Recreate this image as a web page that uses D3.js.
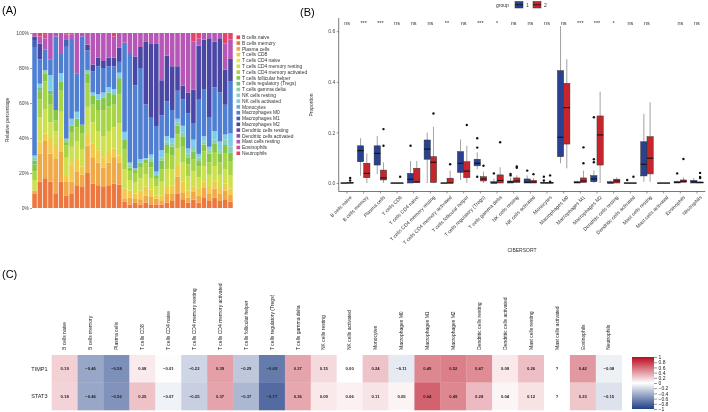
<!DOCTYPE html>
<html><head><meta charset="utf-8">
<script src="https://cdn.jsdelivr.net/npm/d3@7"></script>
<style>body{margin:0;background:#fff}svg{display:block;will-change:transform}text{font-family:"Liberation Sans",Arial,sans-serif}</style>
</head><body><svg id="c" width="708" height="412"></svg>
<script>
// ---------- Panel A data ----------
const legendTypes = ["B cells naive","B cells memory","Plasma cells","T cells CD8","T cells CD4 naive","T cells CD4 memory resting","T cells CD4 memory activated","T cells follicular helper","T cells regulatory (Tregs)","T cells gamma delta","NK cells resting","NK cells activated","Monocytes","Macrophages M0","Macrophages M1","Macrophages M2","Dendritic cells resting","Dendritic cells activated","Mast cells resting","Eosinophils","Neutrophils"];
const typeColors = ["#E8413C","#EC7840","#F0A848","#F2CA4A","#ECE44E","#CFE04E","#A8D548","#86C646","#72BF6E","#8CCFAA","#86D2D0","#7CCBEA","#6AA6E2","#4F7FD2","#4262BA","#4A46A4","#6A46A8","#9250B0","#B657B8","#D24E9E","#E4456A"];
const sampleIds = ["S1","S2","S3","S4","S5","S6","S7","S8","S9","S10","S11","S12","S13","S14","S15","S16","S17","S18","S19","S20","S21","S22","S23","S24","S25","S26","S27","S28","S29","S30","S31","S32","S33","S34","S35","S36","S37","S38"];
// rows: sample, columns: legendTypes order
const composition = [
[0,.08,.02,0,0,.06,.05,.04,.02,.02,0,.01,0,.62,.04,.02,0,0,.02,0,0],
[0,.15,.16,.07,0,.14,.10,.05,.02,0,0,.02,0,.14,0,.09,0,0,.04,0,.02],
[0,.16,.20,.04,0,.13,.15,.04,0,.02,0,0,0,.11,0,0,0,0,.06,.02,.01],
[0,.15,.16,.09,0,.09,.1,.06,.02,0,0,.09,0,.09,0,0,0,0,.15,0,0],
[0,.08,.20,.08,0,.08,.06,.06,0,0,0,0,0,.42,0,0,0,0,.02,0,0],
[0,.15,.17,.08,0,.15,.12,.05,0,0,0,.05,0,.11,0,0,0,0,.12,0,0],
[0,.07,.08,.04,0,.1,.07,.02,0,.02,0,0,0,.53,.04,0,0,0,.03,.01,0],
[0,.08,.07,.1,0,.1,.08,.04,0,0,0,.04,0,.45,0,0,0,0,.03,.01,0],
[0,.13,.08,.07,0,.1,.08,.05,0,0,0,.04,0,.22,0,0,0,0,.23,0,0],
[0,.13,.07,.05,0,.1,.1,.05,0,0,0,0,0,.53,0,0,0,0,.02,0,0],
[0,.18,.14,.06,0,.14,.12,.05,0,.02,0,0,0,.1,0,.03,0,0,.06,0,0],
[0,.14,.15,.08,0,.12,.1,.05,0,0,0,.02,0,.12,0,.04,0,0,.18,0,0],
[0,.13,.13,.07,0,.11,.12,.06,0,0,0,.03,0,.16,0,.05,0,0,.14,0,0],
[0,.12,.11,.06,0,.12,.15,.07,0,0,0,.03,0,.14,0,.04,0,0,.16,0,0],
[0,.13,.13,.06,0,.12,.14,.08,0,0,0,.03,0,.12,0,.05,0,0,.14,0,0],
[0,.14,.15,.05,0,.12,.13,.06,0,0,0,.03,0,.13,0,.05,0,0,.12,0,.02],
[0,.13,.12,.04,0,.18,.16,.09,0,0,0,.03,0,.06,0,.08,0,0,.08,0,0],
[0,.04,.02,.06,0,.12,.12,.06,0,0,0,.05,0,.55,0,0,0,0,.06,0,0],
[0,.02,.04,.04,0,.06,.05,.02,0,.02,0,.01,0,.62,0,0,0,0,.12,0,0],
[0,.03,.02,.03,0,.06,.05,.02,0,0,0,.01,0,.46,0,.16,0,0,.13,0,0],
[0,.02,.03,.05,0,.07,.06,.03,0,0,0,.02,0,.52,0,.12,0,0,.08,0,0],
[0,.03,.04,.05,0,.07,.06,.02,0,0,0,.01,0,.30,0,.35,0,0,.05,0,0],
[0,.02,.04,.04,0,.06,.06,.03,0,.02,0,.02,0,.20,0,.40,0,0,.06,0,0],
[0,.02,.03,.02,0,.05,.04,.02,0,0,0,.02,0,.25,0,.45,0,0,.06,0,0],
[0,.02,.02,.03,0,.08,.07,.05,0,.02,0,.04,0,.2,0,.2,0,0,.27,0,0],
[0,.03,.05,.04,0,.1,.09,.05,0,.02,0,.03,0,.2,0,.26,0,0,.13,0,0],
[0,.04,.04,.05,0,.09,.08,.05,0,.02,0,.03,0,.16,0,.25,0,0,.19,0,0],
[0,.08,.1,.06,0,.1,.08,.05,0,.02,0,.02,0,.16,0,.14,0,0,.19,0,0],
[0,.05,.04,.06,0,.11,.09,.06,0,.02,0,.04,0,.15,0,.08,0,0,.30,0,0],
[0,.03,.03,.04,0,.08,.07,.04,0,.02,0,.03,0,.20,0,.12,0,0,.34,0,0],
[0,.05,.05,.03,0,.09,.07,.05,0,.02,0,.05,0,.1,0,.2,0,0,.29,0,.05],
[0,.03,.04,.04,0,.06,.06,.03,0,.02,0,.02,0,.30,0,.30,0,0,.04,0,.03],
[0,.06,.06,.04,0,.09,.09,.04,0,.02,0,.03,0,.28,0,.30,0,0,.04,0,0],
[0,.04,.04,.04,0,.07,.07,.05,0,.02,0,.02,0,.17,0,.45,0,0,.03,0,0],
[0,.06,.05,.04,0,.09,.08,.05,0,.02,0,.05,0,.25,0,.26,0,0,.05,0,0],
[0,.04,.04,.04,0,.07,.07,.05,0,.02,0,.05,0,.28,0,.31,0,0,.03,0,0],
[0,.05,.05,.04,0,.08,.09,.05,0,.03,0,.03,0,.17,0,.2,0,0,.15,0,.06],
[0,.04,.04,.04,0,.08,.09,.05,0,.04,0,.08,0,.32,0,.14,0,0,.12,0,.04]
];
const pctTicks = ["0%","20%","40%","60%","80%","100%"];

// ---------- Panel B data ----------
const cibersortCells = ["B cells naive","B cells memory","Plasma cells","T cells CD8","T cells CD4 naive","T cells CD4 memory resting","T cells CD4 memory activated","T cells follicular helper","T cells regulatory (Tregs)","T cells gamma delta","NK cells resting","NK cells activated","Monocytes","Macrophages M0","Macrophages M1","Macrophages M2","Dendritic cells resting","Dendritic cells activated","Mast cells resting","Mast cells activated","Eosinophils","Neutrophils"];
const sigLabels = ["ns","***","***","ns","ns","ns","**","ns","***","*","ns","ns","ns","ns","***","***","*","ns","ns","","ns","ns"];
const groupNames = ["1","2"];
const groupColors = ["#2A4190","#C6262B"];
// group 1 (blue)
const g1Lo  = [0,.029,.036,0,0,0,0,.012,.054,0,0,0,0,.078,0,0,0,0,.005,0,0,0];
const g1Q1  = [0,.084,.071,0,0,.094,0,.042,.068,0,0,0,0,.104,0,.005,0,0,.028,0,0,0];
const g1Med = [0,.128,.117,0,.015,.134,0,.078,.078,0,.004,.003,0,.181,.002,.016,0,0,.074,0,.003,.005];
const g1Q3  = [0,.147,.147,0,.038,.170,0,.124,.094,.005,.008,.016,.002,.444,.005,.029,.005,0,.163,0,.005,.010];
const g1Hi  = [0,.177,.186,0,.087,.199,0,.172,.121,.017,.020,.030,.004,.620,.010,.050,.010,0,.273,0,.010,.020];
const g1Out = [[],[],[],[],[.147],[],[],[],[.14,.177,.025],[.038],[.036,.030],[.049],[.025,.010],[],[],[.094,.082,.26],[],[.012],[],[],[.038],[]];
// group 2 (red)
const g2Lo  = [0,0,0,0,0,.002,0,.001,0,0,.002,0,0,.058,.002,0,0,0,.005,0,.003,0];
const g2Q1  = [0,.021,.012,0,.003,.002,0,.021,.008,0,.002,0,0,.154,.002,.071,0,0,.036,0,.003,0];
const g2Med = [0,.038,.020,0,.004,.082,0,.047,.016,.010,.008,.004,0,.298,.008,.190,.008,0,.098,0,.007,.002];
const g2Q3  = [.002,.078,.051,0,.058,.104,.019,.084,.025,.032,.020,.010,.002,.394,.020,.265,.015,0,.183,0,.012,.004];
const g2Hi  = [.005,.117,.082,0,.087,.222,.049,.147,.045,.062,.030,.020,.004,.489,.049,.361,.022,0,.319,0,.022,.008];
const g2Out = [[.01,.02],[],[.213,.147],[.025],[],[.275],[.074],[.229],[.068],[.161],[.065,.060],[.035],[.030,.005],[],[.078,.141],[],[],[.025],[],[],[.095],[.040,.024,.020]];
const propTicks = [0,0.2,0.4,0.6];

// ---------- Panel C data ----------
const geneRows = ["TIMP1","STAT3"];
const timp1Cor = [0.19,-0.46,-0.58,0.08,-0.01,-0.22,0.39,-0.29,-0.69,0.37,0.15,0.00,0.24,-0.11,0.49,0.52,0.47,0.09,0.26,null,0.42,-0.08];
const stat3Cor = [0.18,-0.46,-0.56,0.25,-0.07,-0.25,0.37,-0.37,-0.77,0.36,0.09,0.06,0.11,0.05,0.64,0.49,0.28,0.04,0.12,null,0.23,-0.15];
const corTicks = [1,0.8,0.6,0.4,0.2,0,-0.2,-0.4,-0.6,-0.8,-1];

const svg = d3.select("#c");
svg.append("rect").attr("width",708).attr("height",412).attr("fill","#fff");
const minus = s => s.replace(/-/g,"\u2212");

// ---------- Panel A ----------
{
  const g = svg.append("g");
  g.append("text").attr("x",2).attr("y",14).attr("font-family","Liberation Serif, Times New Roman, serif").attr("font-size",11).text("(A)");
  const x = d3.scaleBand().domain(sampleIds).range([32,233]).paddingInner(0.14).paddingOuter(0.05);
  const y = d3.scaleLinear().domain([0,1]).range([208,33]);
  const rows = composition.map((r,i)=>{const o={id:sampleIds[i]}; legendTypes.forEach((t,j)=>o[t]=r[j]); return o;});
  const series = d3.stack().keys(legendTypes).offset(d3.stackOffsetExpand)(rows);
  series.forEach((s,k)=>{
    g.append("g").attr("fill",typeColors[k]).selectAll("rect").data(s).join("rect")
      .attr("x",d=>x(d.data.id)).attr("width",x.bandwidth())
      .attr("y",d=>y(d[1])).attr("height",d=>Math.max(0,y(d[0])-y(d[1])));
  });
  const ax = g.append("g").attr("transform","translate(32,0)")
    .call(d3.axisLeft(y).tickValues([0,.2,.4,.6,.8,1]).tickFormat((d,i)=>pctTicks[i]).tickSize(2).tickPadding(1));
  ax.select(".domain").remove();
  ax.selectAll("text").attr("font-size",5).attr("fill","#444").attr("font-family","Liberation Sans, Arial, sans-serif");
  ax.selectAll("line").attr("stroke","#444").attr("stroke-width",0.5);
  g.append("text").attr("transform","translate(9,120) rotate(-90)").attr("text-anchor","middle").attr("font-size",5).attr("fill","#333").text("Relative percentage");
  const lg = g.append("g");
  legendTypes.forEach((t,i)=>{
    const yy = 37.3 + i*5.8;
    lg.append("rect").attr("x",236.5).attr("y",yy-1.8).attr("width",3.6).attr("height",3.6).attr("fill",typeColors[i]);
    lg.append("text").attr("x",242).attr("y",yy+1.7).attr("font-size",4.9).attr("fill","#333").text(t);
  });
}

// ---------- Panel B ----------
{
  const g = svg.append("g");
  g.append("text").attr("x",300).attr("y",16).attr("font-family","Liberation Serif, Times New Roman, serif").attr("font-size",11).text("(B)");
  const x = d3.scaleBand().domain(cibersortCells).range([338.7,705.3]);
  const y = d3.scaleLinear().domain([0,0.6]).range([183,31.2]);
  const bw = x.bandwidth()*0.375;
  const ay = g.append("g").attr("transform","translate(338.7,0)").call(d3.axisLeft(y).tickValues(propTicks).tickFormat(d3.format(".1f")).tickSize(2).tickPadding(1.5));
  ay.select(".domain").remove();
  ay.selectAll("text").attr("font-size",5).attr("fill","#444").attr("font-family","Liberation Sans, Arial, sans-serif");
  ay.selectAll("line").attr("stroke","#333").attr("stroke-width",0.5);
  g.append("line").attr("x1",338.7).attr("x2",338.7).attr("y1",18).attr("y2",191.5).attr("stroke","#222").attr("stroke-width",0.6);
  g.append("line").attr("x1",338.7).attr("x2",705.3).attr("y1",191.5).attr("y2",191.5).attr("stroke","#222").attr("stroke-width",0.6);
  const ax = g.append("g").attr("transform","translate(0,191.5)").call(d3.axisBottom(x).tickSize(2).tickPadding(1));
  ax.select(".domain").remove();
  ax.selectAll("line").attr("stroke","#333").attr("stroke-width",0.5);
  ax.selectAll("text").attr("font-size",5).attr("fill","#333").attr("font-family","Liberation Sans, Arial, sans-serif")
    .attr("text-anchor","end").attr("dy","0.3em").attr("transform","translate(2,3) rotate(-45)");
  g.append("text").attr("transform","translate(313,105) rotate(-90)").attr("text-anchor","middle").attr("font-size",5).attr("fill","#333").text("Proportion");
  g.append("text").attr("x",522).attr("y",252).attr("text-anchor","middle").attr("font-size",5).attr("fill","#333").text("CIBERSORT");
  const groups = [[g1Lo,g1Q1,g1Med,g1Q3,g1Hi,g1Out],[g2Lo,g2Q1,g2Med,g2Q3,g2Hi,g2Out]];
  groups.forEach((gr,gi)=>{
    const [lo,q1,md,q3,hi,out] = gr;
    cibersortCells.forEach((c,i)=>{
      const cx = x(c)+x.bandwidth()/2 + (gi===0?-1:1)*bw/2;
      g.append("line").attr("x1",cx).attr("x2",cx).attr("y1",y(hi[i])).attr("y2",y(lo[i])).attr("stroke","#444").attr("stroke-width",0.5);
      g.append("rect").attr("x",cx-bw/2).attr("width",bw).attr("y",y(q3[i])).attr("height",Math.max(0.3,y(q1[i])-y(q3[i])))
        .attr("fill",groupColors[gi]).attr("stroke","#333").attr("stroke-width",0.5);
      g.append("line").attr("x1",cx-bw/2).attr("x2",cx+bw/2).attr("y1",y(md[i])).attr("y2",y(md[i])).attr("stroke","#111").attr("stroke-width",1.1);
      out[i].forEach(v=>g.append("circle").attr("cx",cx).attr("cy",y(v)).attr("r",1.2).attr("fill","#111"));
    });
  });
  g.selectAll(null).data(sigLabels).join("text").attr("x",(d,i)=>x(cibersortCells[i])+x.bandwidth()/2).attr("y",y(0.625))
    .attr("text-anchor","middle").attr("font-size",5.5).attr("fill","#333").text(d=>d);
  g.append("text").attr("x",496).attr("y",7).attr("font-size",5).attr("fill","#333").text("group");
  [[515,0],[533,1]].forEach(([lx,gi])=>{
    g.append("rect").attr("x",lx).attr("y",1.5).attr("width",8).attr("height",6.5).attr("fill",groupColors[gi]).attr("stroke","#333").attr("stroke-width",0.5);
    g.append("line").attr("x1",lx).attr("x2",lx+8).attr("y1",4.75).attr("y2",4.75).attr("stroke","#111").attr("stroke-width",0.8);
    g.append("text").attr("x",lx+11).attr("y",7).attr("font-size",5).attr("fill","#333").text(groupNames[gi]);
  });
}

// ---------- Panel C ----------
{
  const g = svg.append("g");
  g.append("text").attr("x",2).attr("y",278).attr("font-family","Liberation Serif, Times New Roman, serif").attr("font-size",11).text("(C)");
  const x = d3.scaleBand().domain(cibersortCells).range([51.7,621.7]);
  const y = d3.scaleBand().domain(geneRows).range([355,410]);
  const col = d3.scaleLinear().domain([-1,0,1]).range(["#1F3F86","#ffffff","#BA0A1E"]);
  const vals = [timp1Cor, stat3Cor];
  geneRows.forEach((r,ri)=>{
    cibersortCells.forEach((c,ci)=>{
      const v = vals[ri][ci];
      g.append("rect").attr("x",x(c)).attr("y",y(r)).attr("width",x.bandwidth()+0.3).attr("height",y.bandwidth()+0.3)
        .attr("fill", v===null ? "#ffffff" : col(v));
      g.append("text").attr("x",x(c)+x.bandwidth()/2).attr("y",y(r)+y.bandwidth()/2+1.4).attr("text-anchor","middle")
        .attr("font-size",4.2).attr("font-weight","bold").attr("fill","#222").text(v===null?"?":minus(d3.format(".2f")(v)));
    });
    g.append("text").attr("x",47.5).attr("y",y(r)+y.bandwidth()/2+2).attr("text-anchor","end").attr("font-size",5.5).attr("fill","#222").text(r);
  });
  cibersortCells.forEach(c=>{
    g.append("text").attr("transform",`translate(${x(c)+x.bandwidth()/2+1.7},350) rotate(-90)`).attr("font-size",5).attr("fill","#222").text(c);
  });
  const defs = svg.append("defs");
  const grad = defs.append("linearGradient").attr("id","cg").attr("x1",0).attr("y1",1).attr("x2",0).attr("y2",0);
  d3.range(0,1.0001,0.1).forEach(t=>grad.append("stop").attr("offset",t).attr("stop-color",col(-1+2*t)));
  const ly = d3.scaleLinear().domain([-1,1]).range([409,357]);
  g.append("rect").attr("x",632).attr("y",357).attr("width",22).attr("height",52).attr("fill","url(#cg)");
  const al = g.append("g").attr("transform","translate(654,0)").call(d3.axisRight(ly).tickValues(corTicks).tickFormat(d=>minus(String(d))).tickSize(3).tickPadding(1.5));
  al.select(".domain").remove();
  al.selectAll("line").attr("stroke","#333").attr("stroke-width",0.5);
  al.selectAll("text").attr("font-size",5).attr("fill","#222").attr("font-family","Liberation Sans, Arial, sans-serif");
}
</script></body></html>
